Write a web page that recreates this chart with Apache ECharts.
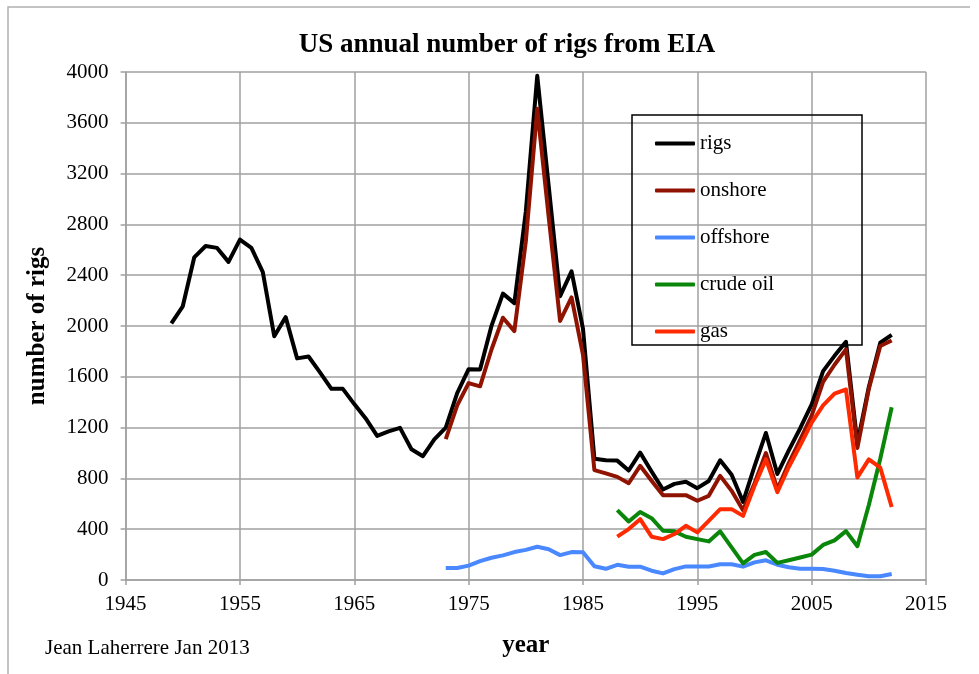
<!DOCTYPE html>
<html lang="en">

<head>
    <meta charset="UTF-8">
    <title>US rigs</title>
    <script src="https://cdn.jsdelivr.net/npm/echarts@6.0.0/dist/echarts.min.js"></script>
</head>

<body style="margin:0;background:#fff">
    <div id="main" style="width: 979px;height:674px;"></div>
    <script type="text/javascript">
        // total rigs 1949-2012
        const rigYears = [1949, 1950, 1951, 1952, 1953, 1954, 1955, 1956, 1957, 1958, 1959, 1960, 1961, 1962, 1963, 1964,
            1965, 1966, 1967, 1968, 1969, 1970, 1971, 1972, 1973, 1974, 1975, 1976, 1977, 1978, 1979, 1980, 1981, 1982,
            1983, 1984, 1985, 1986, 1987, 1988, 1989, 1990, 1991, 1992, 1993, 1994, 1995, 1996, 1997, 1998, 1999, 2000,
            2001, 2002, 2003, 2004, 2005, 2006, 2007, 2008, 2009, 2010, 2011, 2012];
        const rigs = [2020, 2155, 2540, 2630, 2615, 2505, 2680, 2615, 2425, 1920, 2070, 1745, 1760, 1635, 1505, 1505,
            1385, 1272, 1135, 1170, 1198, 1030, 975, 1107, 1200, 1472, 1660, 1658, 2001, 2255, 2180, 2900, 3970, 3105,
            2235, 2430, 1980, 955, 943, 940, 862, 1003, 855, 712, 757, 773, 723, 780, 943, 828, 615, 895,
            1158, 835, 1020, 1195, 1383, 1645, 1765, 1876, 1075, 1520, 1868, 1930];

        // onshore / offshore 1973-2012
        const splitYears = [1973, 1974, 1975, 1976, 1977, 1978, 1979, 1980, 1981, 1982, 1983, 1984, 1985, 1986, 1987,
            1988, 1989, 1990, 1991, 1992, 1993, 1994, 1995, 1996, 1997, 1998, 1999, 2000, 2001, 2002, 2003, 2004, 2005,
            2006, 2007, 2008, 2009, 2010, 2011, 2012];
        const onshore = [1110, 1375, 1550, 1525, 1815, 2065, 1960, 2665, 3710, 2860, 2040, 2225, 1775, 865, 840, 812,
            762, 899, 781, 668, 668, 668, 624, 663, 820, 702, 550, 760, 1000, 715, 920, 1105, 1295, 1560, 1695, 1816,
            1040, 1505, 1842, 1886];
        const offshore = [94, 94, 113, 148, 175, 194, 220, 237, 262, 242, 196, 220, 218, 108, 88, 120, 105, 105, 73,
            52, 86, 107, 107, 107, 124, 124, 105, 139, 155, 120, 100, 88, 88, 86, 73, 55, 42, 30, 30, 47];

        // crude oil / gas 1988-2012
        const typeYears = [1988, 1989, 1990, 1991, 1992, 1993, 1994, 1995, 1996, 1997, 1998, 1999, 2000, 2001, 2002,
            2003, 2004, 2005, 2006, 2007, 2008, 2009, 2010, 2011, 2012];
        const crudeOil = [550, 461, 535, 487, 388, 383, 341, 322, 304, 383, 257, 131, 198, 220, 135, 155, 177, 200,
            276, 312, 385, 266, 590, 955, 1360];
        const gas = [341, 401, 479, 341, 322, 362, 427, 375, 466, 558, 558, 505, 740, 950, 692, 890, 1060, 1240, 1375,
            1468, 1500, 808, 950, 885, 575];

        const pairs = (xs, ys) => xs.map((x, i) => [x, ys[i]]);

        const font = 'Liberation Serif';
        const gridColor = '#a0a0a0';

        function line(name, color, xs, ys) {
            return {
                name: name,
                type: 'line',
                data: pairs(xs, ys),
                showSymbol: false,
                symbol: 'none',
                lineStyle: { color: color, width: 4, join: 'round' },
                itemStyle: { color: color },
                emphasis: { disabled: true }
            };
        }

        let options = {
            animation: false,
            backgroundColor: '#fff',
            title: {
                text: 'US annual number of rigs from EIA',
                left: 502, top: 27, textAlign: 'center',
                textStyle: { fontFamily: font, fontSize: 27, fontWeight: 'bold', color: '#000' }
            },
            grid: { left: 125.6, right: 53, top: 72, bottom: 94, containLabel: false },
            legend: {
                orient: 'vertical',
                left: 655, top: 133,
                padding: 0,
                itemGap: 26,
                itemWidth: 40,
                itemHeight: 4,
                icon: 'roundRect',
                textStyle: { fontFamily: font, fontSize: 21, color: '#000', lineHeight: 20 },
                data: ['rigs', 'onshore', 'offshore', 'crude oil', 'gas']
            },
            xAxis: {
                type: 'value',
                min: 1945, max: 2015, interval: 10,
                name: 'year', nameLocation: 'middle', nameGap: 53,
                nameTextStyle: { fontFamily: font, fontSize: 25, fontWeight: 'bold', color: '#000' },
                axisLine: { lineStyle: { color: gridColor, width: 1.5 } },
                axisTick: { show: true, length: 5, lineStyle: { color: gridColor, width: 1.5 } },
                axisLabel: { fontFamily: font, fontSize: 21, color: '#000', margin: 14, formatter: v => String(v) },
                splitLine: { show: true, lineStyle: { color: gridColor, width: 1.5 } }
            },
            yAxis: {
                type: 'value',
                min: 0, max: 4000, interval: 400,
                name: 'number of rigs', nameLocation: 'middle', nameGap: 76,
                nameTextStyle: { fontFamily: font, fontSize: 25, fontWeight: 'bold', color: '#000' },
                axisLine: { show: true, lineStyle: { color: gridColor, width: 1.5 } },
                axisTick: { show: true, length: 5, lineStyle: { color: gridColor, width: 1.5 } },
                axisLabel: { fontFamily: font, fontSize: 21, color: '#000', margin: 17, formatter: v => String(v) },
                splitLine: { show: true, lineStyle: { color: gridColor, width: 1.5 } }
            },
            graphic: [
                {
                    type: 'polyline', silent: true,
                    shape: { points: [[970, 7], [8, 7], [8, 674]] },
                    style: { stroke: '#b0b0b0', lineWidth: 1.5, fill: null }
                },
                {
                    type: 'rect', silent: true, z: 100,
                    shape: { x: 632, y: 115, width: 230, height: 230 },
                    style: { stroke: '#000', lineWidth: 1.5, fill: 'transparent' }
                },
                {
                    type: 'text', left: 45, top: 638, silent: true,
                    style: { text: 'Jean Laherrere Jan 2013', font: '21px "Liberation Serif"', fill: '#000' }
                }
            ],
            series: [
                line('rigs', '#000000', rigYears, rigs),
                line('onshore', '#8f1300', splitYears, onshore),
                line('offshore', '#4a88ff', splitYears, offshore),
                line('crude oil', '#0a870a', typeYears, crudeOil),
                line('gas', '#ff2a00', typeYears, gas)
            ]
        };

        let myChart = echarts.init(document.getElementById('main'));
        myChart.setOption(options);
    </script>
</body>

</html>
